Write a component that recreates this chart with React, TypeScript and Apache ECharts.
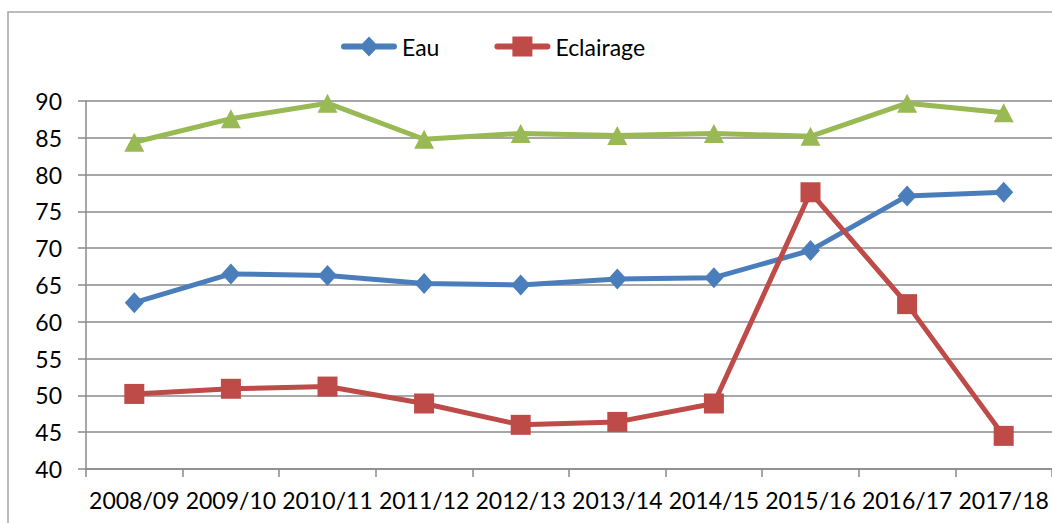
import React, { useEffect, useRef } from "react";
import * as echarts from "echarts";

const categories = ["2008/09", "2009/10", "2010/11", "2011/12", "2012/13", "2013/14", "2014/15", "2015/16", "2016/17", "2017/18"];
const eau = [62.6, 66.5, 66.3, 65.2, 65.0, 65.8, 66.0, 69.7, 77.1, 77.6];
const eclairage = [50.2, 50.9, 51.2, 48.9, 46.0, 46.4, 48.9, 77.6, 62.4, 44.5];
const troisieme = [84.4, 87.6, 89.7, 84.8, 85.6, 85.3, 85.6, 85.2, 89.7, 88.4];
const legendNames = ["Eau", "Eclairage"];

const FONT = "Lato";

const BAR = "M3,7 H53 A3,3 0 0 1 53,13 H3 A3,3 0 0 1 3,7 Z ";
const ICON_EAU = "path://" + BAR + "M28,0 L37.5,10 L28,20 L18.5,10 Z";
const ICON_ECL = "path://" + BAR + "M18,0 H38 V20 H18 Z";

export default function App() {
  const ref = useRef<HTMLDivElement>(null);
  useEffect(() => {
    if (!ref.current) return;
    const chart = echarts.init(ref.current, undefined, { renderer: "svg" });
    chart.setOption({
      animation: false,
      backgroundColor: "#ffffff",
      textStyle: { fontFamily: FONT },
      graphic: [
        {
          type: "rect",
          shape: { x: 8, y: 12, width: 1060, height: 530 },
          style: { fill: "none", stroke: "#a6a6a6", lineWidth: 1.5 },
          silent: true,
        },
      ],
      legend: {
        data: [
          { name: legendNames[0], icon: ICON_EAU },
          { name: legendNames[1], icon: ICON_ECL },
        ],
        left: 336,
        top: 30,
        itemWidth: 56,
        itemHeight: 20,
        itemGap: 55,
        textStyle: { fontFamily: FONT, fontSize: 23, color: "#000" },
      },
      grid: { left: 86, right: -2, top: 101, bottom: 54, containLabel: false },
      xAxis: {
        type: "category",
        data: categories,
        boundaryGap: true,
        axisLine: { lineStyle: { color: "#8a8a8a", width: 1.5 } },
        axisTick: { show: true, length: 8, lineStyle: { color: "#8a8a8a", width: 1.5 } },
        axisLabel: { fontFamily: FONT, fontSize: 23, color: "#000", margin: 19, interval: 0 },
      },
      yAxis: {
        type: "value",
        min: 40,
        max: 90,
        interval: 5,
        axisLine: { show: true, lineStyle: { color: "#8a8a8a", width: 1.5 } },
        axisTick: { show: true, length: 8, lineStyle: { color: "#8a8a8a", width: 1.5 } },
        axisLabel: { fontFamily: FONT, fontSize: 23, color: "#000", margin: 24 },
        splitLine: { show: true, lineStyle: { color: "#8a8a8a", width: 1.5 } },
      },
      series: [
        {
          name: "Eau",
          type: "line",
          data: eau,
          symbol: "diamond",
          symbolSize: [19, 21],
          color: "#4A7EBB",
          lineStyle: { width: 5, color: "#4A7EBB" },
          itemStyle: { color: "#4A7EBB" },
          z: 3,
        },
        {
          name: "Eclairage",
          type: "line",
          data: eclairage,
          symbol: "rect",
          symbolSize: 20,
          color: "#BE4B48",
          lineStyle: { width: 5, color: "#BE4B48" },
          itemStyle: { color: "#BE4B48" },
          z: 4,
        },
        {
          name: "Série 3",
          type: "line",
          data: troisieme,
          symbol: "triangle",
          symbolSize: [20, 19],
          color: "#98B954",
          lineStyle: { width: 5, color: "#98B954" },
          itemStyle: { color: "#98B954" },
          z: 2,
        },
      ],
    });
    return () => chart.dispose();
  }, []);
  return (
    <div
      ref={ref}
      style={{ position: "fixed", left: 0, top: 0, width: 1052, height: 523 }}
    />
  );
}
